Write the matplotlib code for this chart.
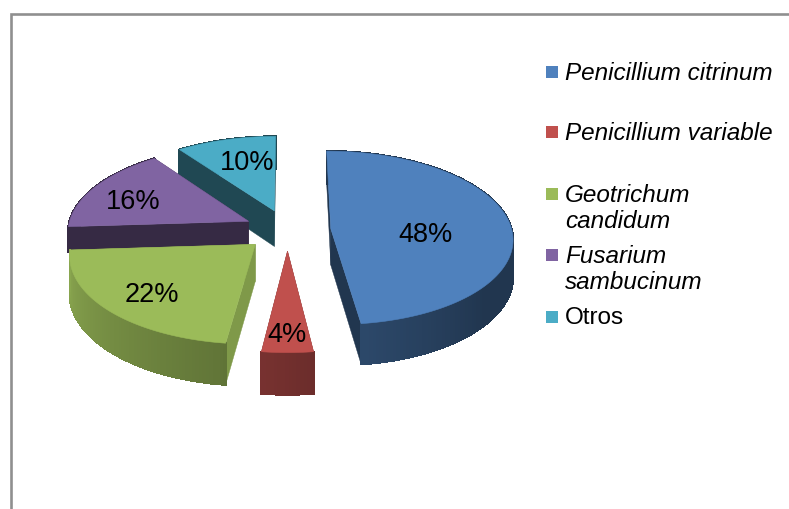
import numpy as np
import matplotlib
matplotlib.use("Agg")
import matplotlib.pyplot as plt
from matplotlib.collections import PolyCollection
from matplotlib.patches import Polygon, Rectangle

# Data
names = ["Penicillium citrinum", "Penicillium variable", "Geotrichum\ncandidum",
         "Fusarium\nsambucinum", "Otros"]
shares = [48, 4, 22, 16, 10]
colors = ["#4f81bd", "#c0504d", "#9bbb59", "#8064a2", "#4bacc6"]

# Layout of the fake 3D pie (pixels)
cx, cy = 287.5, 231
rx, ry = 181, 86
persp = 0.105
depth = 36.5
explode = 0.24
cut_shade = [0.42, 0.5, 0.82, 0.42, 0.42]
depth_scale = [1, 1, 1, 0.7, 1]
label_xy = [(426, 235), (287, 335), (152, 295), (133, 202), (247, 163)]
legend_y = [73, 133, 195, 256, 318]

plt.rcParams["font.family"] = ["Liberation Sans", "DejaVu Sans"]


def project(u, v, drop=0.0):
    s = 1 / (1 + persp * v)
    return cx + rx * u * s, cy - ry * v * s + drop * depth * s


def side_shade(a):
    return np.interp(a, [-180, -97, -83, -40, 0], [0.9, 0.62, 0.56, 0.42, 0.42])


def dark(col, f):
    return tuple(c * f for c in matplotlib.colors.to_rgb(col))


fig = plt.figure(figsize=(7.89, 5.10), dpi=100)
ax = fig.add_axes([0, 0, 1, 1])
ax.set_xlim(0, 789)
ax.set_ylim(510, 0)
ax.axis("off")

# chart frame
ax.plot([11.5, 11.5, 789], [510, 15, 15], color="#8f8f8f", lw=1.9, solid_joinstyle="miter")

# slice angles, clockwise from the top
edges = 90 - np.cumsum([0] + shares) * 3.6
slices = []
for i in range(len(shares)):
    a0, a1 = edges[i], edges[i + 1]
    mid = np.radians((a0 + a1) / 2)
    slices.append((i, a0, a1, explode * np.cos(mid), explode * np.sin(mid)))

# back to front: Otros, Fusarium, citrinum, Geotrichum, variable
for k in [4, 3, 0, 2, 1]:
    i, a0, a1, u0, v0 = slices[k]
    col = colors[i]
    d = depth_scale[i]
    ang = np.linspace(a0, a1, max(int(abs(a0 - a1)), 2) + 1)
    us = u0 + np.cos(np.radians(ang))
    vs = v0 + np.sin(np.radians(ang))

    # cut faces
    for u, v in [(us[0], vs[0]), (us[-1], vs[-1])]:
        face = [project(u0, v0), project(u, v), project(u, v, d), project(u0, v0, d)]
        ax.add_patch(Polygon(face, closed=True, fc=dark(col, cut_shade[i]),
                             ec=dark(col, cut_shade[i]), lw=0.3))

    # outer wall with a little shading along the arc
    quads, shade = [], []
    for j in range(len(ang) - 1):
        quads.append([project(us[j], vs[j]), project(us[j + 1], vs[j + 1]),
                      project(us[j + 1], vs[j + 1], d), project(us[j], vs[j], d)])
        mid_a = (ang[j] + ang[j + 1]) / 2
        mid_a = ((mid_a + 180) % 360) - 180
        # Fusarium wall stays as dark as its cut face
        f = cut_shade[i] if i == 3 else side_shade(min(mid_a, 0))
        shade.append(dark(col, f))
    ax.add_collection(PolyCollection(quads, facecolors=shade, edgecolors=shade,
                                     linewidths=0.9, antialiaseds=False))

    # top face
    top = [project(u0, v0)] + [project(u, v) for u, v in zip(us, vs)]
    ax.add_patch(Polygon(top, closed=True, fc=col, ec=col, lw=0.4))

for i, (x, y) in enumerate(label_xy):
    ax.text(x, y, f"{shares[i]}%", fontsize=19.5, color="black", ha="center", va="center")

# legend
for i, name in enumerate(names):
    ax.add_patch(Rectangle((546, legend_y[i] - 6), 12, 12, fc=colors[i], ec="none"))
    ax.text(565, legend_y[i] - 11, name, fontsize=17.5, color="black", ha="left", va="top",
            style="normal" if name == "Otros" else "italic", linespacing=1.17)

fig.savefig("out.png", dpi=100)
